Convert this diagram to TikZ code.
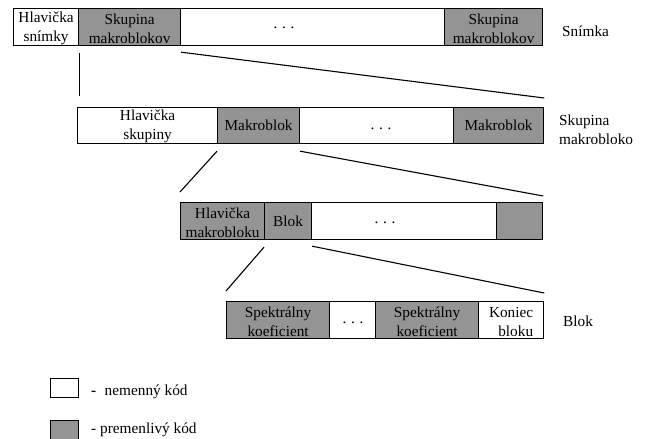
\documentclass[tikz,border=0pt]{standalone}
\usepackage{fontspec}
\setmainfont{Liberation Serif}
\newfontfamily\cellfont{Liberation Serif}
\definecolor{cellgray}{RGB}{148,148,148}
% strut that lowers two-line cell text slightly
\newcommand{\toproom}{\rule{0pt}{13pt}}
\begin{document}
\begin{tikzpicture}[x=1pt,y=-1pt,
  every node/.style={font=\cellfont\fontsize{15.3}{19}\selectfont},
  cell/.style={draw=black, line width=1.2pt, inner sep=0pt, align=center,
    anchor=north west, fill=white},
  varcell/.style={cell, fill=cellgray},
  rowlabel/.style={inner sep=0pt, anchor=base west, align=left},
  dotsmark/.style={inner sep=0pt},
  link/.style={line width=1.1pt, black}]
\clip (0,0) rectangle (646,439);
\fill[white] (0,0) rectangle (646,439);

% --- frame: Snimka
\node[cell, minimum width=65pt, minimum height=37pt] (fh) at (13,8) {\toproom Hlavička\\snímky};
\node[varcell, minimum width=102pt, minimum height=37pt] (fg1) at (78,8) {\toproom Skupina\\makroblokov};
\node[cell, minimum width=264pt, minimum height=37pt] (fw) at (180,8) {};
\node[varcell, minimum width=98pt, minimum height=37pt] (fg2) at (444,8) {\toproom Skupina\\makroblokov};
\node[dotsmark] (fdots) at (284,28) {.\hspace{0.3em}.\hspace{0.3em}.};
\node[rowlabel] (lframe) at (562,36) {Snímka};

% --- group of macroblocks
\node[cell, minimum width=140pt, minimum height=36pt] (gh) at (77,107) {\toproom Hlavička\\skupiny};
\node[varcell, minimum width=82pt, minimum height=36pt] (gm1) at (217,107) {Makroblok};
\node[cell, minimum width=154pt, minimum height=36pt] (gw) at (299,107) {};
\node[varcell, minimum width=90pt, minimum height=36pt] (gm2) at (453,107) {Makroblok};
\node[dotsmark] (gdots) at (381,129) {.\hspace{0.3em}.\hspace{0.3em}.};
\node[inner sep=0pt, anchor=north west, align=left] (lgroup) at (559,114.6) {Skupina\\makrobloko};

% --- macroblock
\node[varcell, minimum width=84pt, minimum height=37pt] (mh) at (180,202) {\toproom Hlavička\\makrobloku};
\node[varcell, minimum width=47pt, minimum height=37pt] (mb) at (264,202) {Blok};
\node[cell, minimum width=185pt, minimum height=37pt] (mw) at (311,202) {};
\node[varcell, minimum width=46pt, minimum height=37pt] (mg) at (496,202) {};
\node[dotsmark] (mdots) at (385,223) {.\hspace{0.3em}.\hspace{0.3em}.};

% --- block
\node[varcell, minimum width=103pt, minimum height=37pt] (bs1) at (226,301) {\toproom Spektrálny\\koeficient};
\node[cell, minimum width=46pt, minimum height=37pt] (bw) at (329,301) {};
\node[varcell, minimum width=103pt, minimum height=37pt] (bs2) at (375,301) {\toproom Spektrálny\\koeficient};
\node[cell, minimum width=65pt, minimum height=37pt, align=right] (bk) at (478,301) {\toproom Koniec\\bloku};
\node[dotsmark] (bdots) at (353,323) {.\hspace{0.3em}.\hspace{0.3em}.};
\node[rowlabel] (lblock) at (563,326) {Blok};

% --- expansion lines between levels
\draw[link] ([yshift=-7pt]fh.south east) -- ([yshift=11pt]fh.south east |- gh.north);
\draw[link] ([yshift=-6pt]fg1.south east) -- ([yshift=9pt]gm2.north east);
\draw[link] ([yshift=-7pt]gm1.south west) -- ([yshift=10pt]mh.north west);
\draw[link] ([yshift=-7pt]gm1.south east) -- ([yshift=6pt]mg.north east);
\draw[link] ([yshift=-7pt]mb.south west) -- ([yshift=10pt]bs1.north west);
\draw[link] ([yshift=-6pt]mb.south east) -- ([yshift=8pt]bk.north east);

% --- legend
\node[cell, minimum width=28pt, minimum height=19pt] (keyfix) at (50,378) {};
\node[varcell, minimum width=28pt, minimum height=22pt] (keyvar) at (50,420) {};
\node[rowlabel] (tfix) at (91,395) {\textbf{-}\hspace{0.55em}nemenný kód};
\node[rowlabel] (tvar) at (91,433) {- premenlivý kód};
\end{tikzpicture}
\end{document}
